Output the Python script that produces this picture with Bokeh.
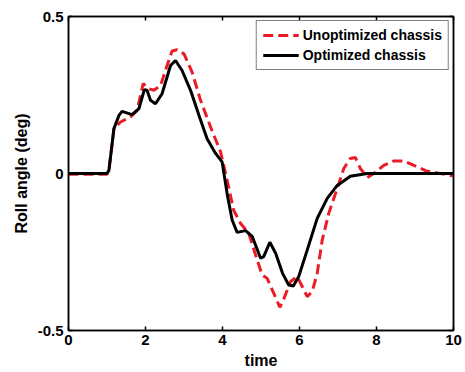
from bokeh.plotting import figure
from bokeh.models import LinearAxis, FixedTicker, Range1d, Legend, LegendItem
from bokeh.embed import file_html
from bokeh.resources import INLINE

# Unoptimized chassis (red dashed)
t_unopt = [0, 0.5, 1.0, 1.05, 1.18, 1.35, 1.61, 1.78, 1.94, 2.09, 2.22, 2.39, 2.56, 2.69, 2.82,
           3.0, 3.21, 3.43, 3.69, 3.95, 4.12, 4.29, 4.47, 4.68, 4.9, 5.03, 5.16, 5.33, 5.49,
           5.59, 5.77, 5.94, 6.07, 6.2, 6.33, 6.46, 6.59, 6.76, 6.98, 7.15, 7.32, 7.45, 7.58,
           7.76, 7.93, 8.19, 8.45, 8.71, 8.97, 9.32, 9.66, 10.0]
roll_unopt = [-0.002, -0.002, -0.002, 0.01, 0.143, 0.164, 0.18, 0.2, 0.286, 0.27, 0.265, 0.28, 0.344,
              0.39, 0.394, 0.381, 0.323, 0.233, 0.148, 0.069, -0.021, -0.117, -0.159, -0.19,
              -0.275, -0.323, -0.334, -0.381, -0.426, -0.40, -0.344, -0.328, -0.36, -0.392,
              -0.376, -0.318, -0.212, -0.127, -0.048, 0.016, 0.048, 0.051, 0.016, -0.013, 0.0,
              0.026, 0.040, 0.040, 0.026, 0.007, 0.0, -0.008]

# Optimized chassis (black solid)
t_opt = [0, 0.5, 1.0, 1.05, 1.18, 1.31, 1.39, 1.65, 1.83, 1.97, 2.04, 2.13, 2.26, 2.43, 2.65, 2.78,
         2.95, 3.17, 3.39, 3.6, 3.82, 3.99, 4.12, 4.25, 4.38, 4.6, 4.77, 4.99, 5.07, 5.23,
         5.38, 5.56, 5.72, 5.84, 5.98, 6.2, 6.46, 6.72, 6.98, 7.32, 7.76, 8.5, 9.0, 10.0]
roll_opt = [0, 0, 0, 0.01, 0.143, 0.185, 0.198, 0.1875, 0.207, 0.267, 0.265, 0.233, 0.222, 0.254,
            0.344, 0.36, 0.328, 0.265, 0.185, 0.111, 0.064, 0.037, -0.064, -0.148, -0.1875,
            -0.182, -0.2, -0.27, -0.265, -0.219, -0.254, -0.318, -0.355, -0.358, -0.328,
            -0.244, -0.143, -0.079, -0.038, -0.0085, 0.0, 0.0, 0.0, 0.0]

x_ticks = [0, 2, 4, 6, 8, 10]
y_ticks = [-0.5, 0, 0.5]
series_names = ["Unoptimized chassis", "Optimized chassis"]

FONT = "Liberation Sans"

p = figure(width=465, height=372, output_backend="svg", toolbar_location=None,
           x_range=Range1d(0, 10), y_range=Range1d(-0.5, 0.5),
           min_border_left=68, min_border_right=12, min_border_top=16, min_border_bottom=42)
p.background_fill_color = "white"
p.border_fill_color = "white"
p.grid.visible = False
p.outline_line_color = "black"
p.outline_line_width = 1.5

r1 = p.line(t_unopt, roll_unopt, line_color="#ec1c27", line_width=3, line_dash="10 5")
r2 = p.line(t_opt, roll_opt, line_color="black", line_width=3)

for ax in [p.xaxis[0], p.yaxis[0]]:
    ax.major_tick_in = 4
    ax.major_tick_out = 0
    ax.minor_tick_line_color = None
    ax.axis_line_color = "black"
    ax.axis_line_width = 1.5
    ax.major_tick_line_width = 1.5
    ax.major_label_text_font = FONT
    ax.major_label_text_font_style = "bold"
    ax.major_label_text_font_size = "15px"
    ax.major_label_text_color = "black"
    ax.axis_label_text_font = FONT
    ax.axis_label_text_font_style = "bold"
    ax.axis_label_text_font_size = "16px"
    ax.axis_label_text_color = "black"

p.xaxis[0].ticker = FixedTicker(ticks=x_ticks)
p.yaxis[0].ticker = FixedTicker(ticks=y_ticks)
p.yaxis[0].major_label_overrides = {-0.5: "-0.5", 0: "0", 0.5: "0.5"}
p.xaxis[0].axis_label = "time"
p.yaxis[0].axis_label = "Roll angle (deg)"
p.xaxis[0].major_label_standoff = 4
p.xaxis[0].axis_label_standoff = 4
p.yaxis[0].major_label_standoff = 5
p.yaxis[0].axis_label_standoff = 5

top = LinearAxis(ticker=FixedTicker(ticks=x_ticks))
right = LinearAxis(ticker=FixedTicker(ticks=y_ticks))
for ax in [top, right]:
    ax.major_tick_in = 4
    ax.major_tick_out = 0
    ax.minor_tick_line_color = None
    ax.axis_line_color = "black"
    ax.axis_line_width = 1.5
    ax.major_tick_line_width = 1.5
    ax.major_label_text_font_size = "1px"
    ax.major_label_text_color = None
    ax.major_label_standoff = 0
p.add_layout(top, "above")
p.add_layout(right, "right")

legend = Legend(items=[LegendItem(label=series_names[0], renderers=[r1]),
                       LegendItem(label=series_names[1], renderers=[r2])],
                location="top_right")
legend.margin = 4
legend.padding = 6
legend.spacing = 4
legend.label_height = 14
legend.glyph_height = 14
legend.glyph_width = 36
legend.label_standoff = 4
legend.label_text_font = FONT
legend.label_text_font_style = "bold"
legend.label_text_font_size = "14px"
legend.label_text_color = "black"
legend.border_line_color = "black"
legend.border_line_width = 1.5
legend.background_fill_color = "white"
legend.background_fill_alpha = 1
p.add_layout(legend)

open("out.html", "w").write(file_html(p, INLINE))
